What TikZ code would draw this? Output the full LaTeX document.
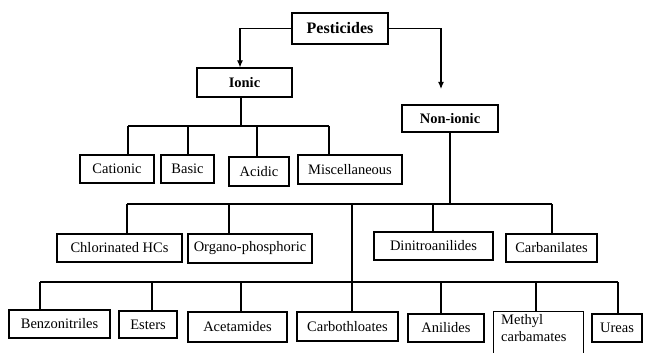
\documentclass[tikz,border=0pt]{standalone}
\usepackage{fontspec}
\setmainfont{Liberation Serif}
\usetikzlibrary{arrows.meta}
\tikzset{
  box/.style={draw, line width=1.1pt, inner sep=0pt, font=\fontsize{14.5}{17}\selectfont},
  hbox/.style={box, font=\fontsize{14.5}{17}\selectfont\bfseries},
  conn/.style={line width=1.1pt},
  arr/.style={conn, -{Latex[length=7pt,width=6pt]}}
}
\begin{document}
\begin{tikzpicture}[x=1pt,y=-1pt]
\useasboundingbox (0,0) rectangle (649,353);
% top level
\node[hbox, font=\fontsize{16}{18}\selectfont\bfseries, minimum width=96pt, minimum height=31pt] (pest) at (340,28.5) {Pesticides};
\node[hbox, minimum width=95pt, minimum height=29pt] (ionic) at (244.5,82.5) {Ionic};
\node[hbox, minimum width=96pt, minimum height=27pt] (nonionic) at (450,118.5) {Non-ionic};
% ionic children
\node[box, minimum width=74pt, minimum height=28pt] (cationic) at (117,169) {Cationic};
\node[box, minimum width=53pt, minimum height=28pt] (basic) at (187.5,169) {Basic};
\node[box, minimum width=60pt, minimum height=29pt] (acidic) at (259,171.5) {Acidic};
\node[box, minimum width=104pt, minimum height=29pt] (misc) at (350,169.5) {Miscellaneous};
% non-ionic children
\node[box, minimum width=125pt, minimum height=28pt] (chlor) at (119.5,248) {Chlorinated HCs};
\node[box, minimum width=124pt, minimum height=29pt] (organo) at (250,248.5) {Organo-phosphoric};
\node[box, minimum width=119pt, minimum height=28pt] (dinitro) at (433.5,246) {Dinitroanilides};
\node[box, minimum width=91pt, minimum height=28pt] (carban) at (551.5,248) {Carbanilates};
% bottom row
\node[box, minimum width=101pt, minimum height=28pt] (benzo) at (59.5,324) {Benzonitriles};
\node[box, minimum width=58pt, minimum height=27pt] (esters) at (148,324.5) {Esters};
\node[box, minimum width=99pt, minimum height=30pt] (acet) at (237.5,327) {Acetamides};
\node[box, minimum width=101pt, minimum height=29pt] (carbo) at (347.5,326.5) {Carbothloates};
\node[box, minimum width=76pt, minimum height=28pt] (anil) at (446,328) {Anilides};
\node[box, draw=none, minimum width=89pt, minimum height=46pt] (methyl) at (538.5,335) {};
\node[font=\fontsize{14.5}{17.5}\selectfont, align=left, anchor=north west, inner sep=0pt] (methyltxt) at (501,314) {Methyl\\carbamates};
\node[box, minimum width=50pt, minimum height=28pt] (ureas) at (617,328) {Ureas};
\draw[line width=1.1pt] (methyl.south west) -- (methyl.north west) -- (methyl.north east) -- (methyl.south east);

% arrows from Pesticides
\coordinate (ia) at (240,0);
\draw[arr] (pest.west) -| (ia |- ionic.north);
\coordinate (na) at (441,89);
\draw[arr] (pest.east) -| (na);

% ionic tree
\coordinate (jI) at (241,126);
\coordinate (i1) at (128,126);
\coordinate (i2) at (188,126);
\coordinate (i3) at (257,126);
\coordinate (i4) at (329,126);
\draw[conn] (jI |- ionic.south) -- (jI);
\draw[conn] (i1) -- (i4);
\draw[conn] (i1) -- (i1 |- cationic.north);
\draw[conn] (i2) -- (i2 |- basic.north);
\draw[conn] (i3) -- (i3 |- acidic.north);
\draw[conn] (i4) -- (i4 |- misc.north);

% non-ionic tree
\coordinate (jN) at (450,204);
\coordinate (n1) at (127,204);
\coordinate (n2) at (229,204);
\coordinate (nc) at (352,204);
\coordinate (n3) at (433,204);
\coordinate (n4) at (552,204);
\draw[conn] (nonionic.south) -- (jN);
\draw[conn] (n1) -- (n4);
\draw[conn] (n1) -- (n1 |- chlor.north);
\draw[conn] (n2) -- (n2 |- organo.north);
\draw[conn] (n3) -- (n3 |- dinitro.north);
\draw[conn] (n4) -- (n4 |- carban.north);

% bottom tree
\coordinate (b1) at (40,282);
\coordinate (b2) at (152,282);
\coordinate (b3) at (241,282);
\coordinate (b4) at (352,282);
\coordinate (b5) at (441,282);
\coordinate (b6) at (536,282);
\coordinate (b7) at (618,282);
\draw[conn] (nc) -- (b4);
\draw[conn] (b1) -- (b7);
\draw[conn] (b1) -- (b1 |- benzo.north);
\draw[conn] (b2) -- (b2 |- esters.north);
\draw[conn] (b3) -- (b3 |- acet.north);
\draw[conn] (b4) -- (b4 |- carbo.north);
\draw[conn] (b5) -- (b5 |- anil.north);
\draw[conn] (b6) -- (b6 |- methyl.north);
\draw[conn] (b7) -- (b7 |- ureas.north);
\end{tikzpicture}
\end{document}
